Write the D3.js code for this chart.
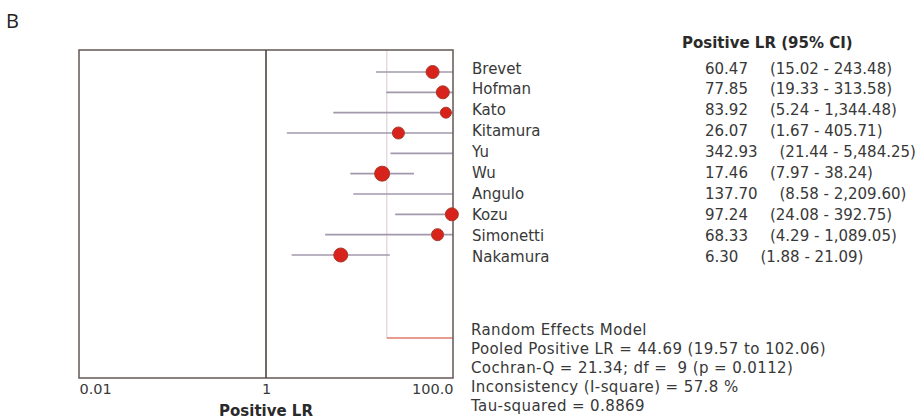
<!DOCTYPE html>
<html><head><meta charset="utf-8">
<script src="https://cdn.jsdelivr.net/npm/d3@7"></script>
<style>
html,body{margin:0;padding:0;background:#fff;}
svg{display:block;}
text{font-family:"DejaVu Sans",Verdana,sans-serif;fill:#383838;}
</style></head>
<body><svg id="c" width="916" height="420"></svg>
<script>
const studies = ["Brevet","Hofman","Kato","Kitamura","Yu","Wu","Angulo","Kozu","Simonetti","Nakamura"];
const lr      = [60.47, 77.85, 83.92, 26.07, 342.93, 17.46, 137.70, 97.24, 68.33, 6.30];
const lower   = [15.02, 19.33, 5.24, 1.67, 21.44, 7.97, 8.58, 24.08, 4.29, 1.88];
const upper   = [243.48, 313.58, 1344.48, 405.71, 5484.25, 38.24, 2209.60, 392.75, 1089.05, 21.09];
const weight  = [6.5, 6.5, 5.5, 6, 5, 7.5, 5, 6.5, 6, 7];
const lrText  = ["60.47","77.85","83.92","26.07","342.93","17.46","137.70","97.24","68.33","6.30"];
const ciText  = ["(15.02 - 243.48)","(19.33 - 313.58)","(5.24 - 1,344.48)","(1.67 - 405.71)","(21.44 - 5,484.25)","(7.97 - 38.24)","(8.58 - 2,209.60)","(24.08 - 392.75)","(4.29 - 1,089.05)","(1.88 - 21.09)"];
const pooled = {est:44.69, lo:19.57, hi:102.06};
const tickValues = [0.01, 1, 100];
const tickLabels = ["0.01","1","100.0"];
const summaryLines = [
  "Random Effects Model",
  "Pooled Positive LR = 44.69 (19.57 to 102.06)",
  "Cochran-Q = 21.34; df =  9 (p = 0.0112)",
  "Inconsistency (I-square) = 57.8 %",
  "Tau-squared = 0.8869"
];

const svg = d3.select("#c");
const plotTop = 50, plotBottom = 378;
const x = d3.scaleLog().domain([0.01, 100]).range([79, 453]);
const yDot = d3.scalePoint().domain(studies).range([72, 255]);
const yTxt = d3.scalePoint().domain(studies).range([68, 256]);

svg.append("text").attr("x", 6).attr("y", 28).style("font-family","'Open Sans',sans-serif")
  .style("font-size","20px").style("fill","#222").text("B");

svg.append("defs").append("clipPath").attr("id","plotclip").append("rect")
  .attr("x", x(0.01)).attr("y", plotTop).attr("width", x(100)-x(0.01)).attr("height", plotBottom-plotTop);

const rows = studies.map((s,i)=>({s, lr:lr[i], lo:lower[i], hi:upper[i], w:weight[i]}));

// pooled reference vertical
svg.append("line").attr("x1", x(pooled.lo)).attr("x2", x(pooled.lo))
  .attr("y1", plotTop).attr("y2", 338).attr("stroke","#e6dbe0").attr("stroke-width",1.5);

// CI lines
svg.append("g").attr("clip-path","url(#plotclip)").selectAll("line").data(rows).join("line")
  .attr("x1", d=>x(d.lo)).attr("x2", d=>x(d.hi))
  .attr("y1", d=>yDot(d.s)).attr("y2", d=>yDot(d.s))
  .attr("stroke","#a298ac").attr("stroke-width",1.6);

// pooled CI line
svg.append("line").attr("clip-path","url(#plotclip)")
  .attr("x1", x(pooled.lo)).attr("x2", x(pooled.hi)).attr("y1", 338).attr("y2", 338)
  .attr("stroke","#e07a6a").attr("stroke-width",1.6);

// frame
svg.append("rect").attr("x", x(0.01)).attr("y", plotTop).attr("width", x(100)-x(0.01)).attr("height", plotBottom-plotTop)
  .attr("fill","none").attr("stroke","#6d625e").attr("stroke-width",1.6);
svg.append("line").attr("x1", x(1)).attr("x2", x(1)).attr("y1", plotTop).attr("y2", plotBottom)
  .attr("stroke","#4e4542").attr("stroke-width",1.6);

// points
svg.append("g").selectAll("circle").data(rows.filter(d=>d.lr<=100)).join("circle")
  .attr("cx", d=>x(d.lr)).attr("cy", d=>yDot(d.s)).attr("r", d=>d.w)
  .attr("fill","#d8221c").attr("stroke","#a83a2a").attr("stroke-width",1);

// axis
const ax = d3.axisBottom(x).tickValues(tickValues).tickFormat((d,i)=>tickLabels[i]).tickSize(0).tickPadding(6);
const axg = svg.append("g").attr("transform",`translate(0,${plotBottom})`).call(ax);
axg.select(".domain").remove();
axg.selectAll("text").style("font-size","14.5px").style("fill","#3a3a3a")
  .style("font-family","'DejaVu Sans',sans-serif")
  .attr("text-anchor",(d,i)=> i===0 ? "start" : (i===tickLabels.length-1 ? "end" : "middle"));
svg.append("text").attr("x", x(1)).attr("y", 416).attr("text-anchor","middle")
  .style("font-weight","bold").style("font-size","15px").style("fill","#2a2a2a").text("Positive LR");

// labels
svg.append("g").selectAll("text").data(rows).join("text")
  .attr("x", 472).attr("y", d=>yTxt(d.s)+5.5)
  .style("font-size","15px").text(d=>d.s);

svg.append("text").attr("x", 682).attr("y", 47.5).style("font-weight","bold").style("font-size","15px")
  .style("fill","#2a2a2a").text("Positive LR (95% CI)");

const vt = svg.append("g").selectAll("text").data(rows).join("text")
  .attr("x", 705).attr("y", d=>yTxt(d.s)+5.5).style("font-size","15px");
vt.append("tspan").text((d,i)=>lrText[i]);
vt.append("tspan").attr("dx", 22).text((d,i)=>ciText[i]);

svg.append("g").selectAll("text").data(summaryLines).join("text")
  .attr("x", 471).attr("y", (d,i)=>335 + i*19)
  .style("font-size","15px").style("letter-spacing","0.4px").style("white-space","pre").text(d=>d);
</script></body></html>
